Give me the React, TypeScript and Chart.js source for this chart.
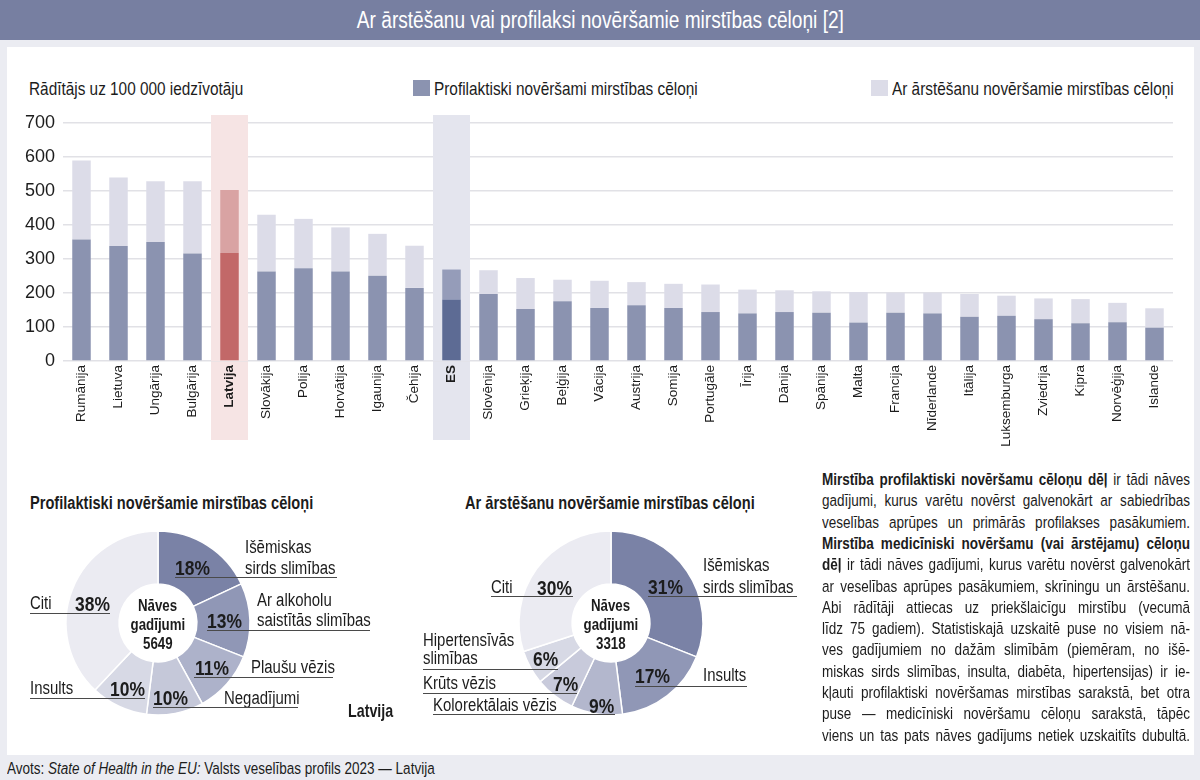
import React, { useEffect, useRef } from "react";
import { Chart, registerables } from "chart.js";

Chart.register(...registerables);

// ---------- DATA ----------
const countries = [
  "Rumānija", "Lietuva", "Ungārija", "Bulgārija", "Latvija", "Slovākija", "Polija", "Horvātija",
  "Igaunija", "Čehija", "ES", "Slovēnija", "Grieķija", "Beļģija", "Vācija", "Austrija", "Somija",
  "Portugāle", "Īrija", "Dānija", "Spānija", "Malta", "Francija", "Nīderlande", "Itālija",
  "Luksemburga", "Zviedrija", "Kipra", "Norvēģija", "Islande",
];
const preventable = [357, 338, 350, 316, 318, 263, 273, 263, 251, 215, 181, 197, 153, 176, 156, 164, 156, 144, 140, 144, 142, 113, 142, 140, 130, 133, 123, 111, 114, 98];
const treatable = [233, 202, 179, 213, 185, 167, 145, 130, 123, 124, 88, 70, 91, 63, 80, 68, 71, 81, 70, 64, 63, 90, 59, 61, 67, 59, 61, 71, 57, 57];
const seriesNames = ["Profilaktiski novēršami mirstības cēloņi", "Ar ārstēšanu novēršamie mirstības cēloņi"];
const yTicks = [0, 100, 200, 300, 400, 500, 600, 700];
const highlighted = ["Latvija", "ES"];

const prevCauses = [["Išēmiskas", "sirds slimības"], ["Ar alkoholu", "saistītās slimības"], ["Plaušu vēzis"], ["Negadījumi"], ["Insults"], ["Citi"]];
const prevShares = [18, 13, 11, 10, 10, 38];
const prevDeaths = 5649;

const treatCauses = [["Išēmiskas", "sirds slimības"], ["Insults"], ["Kolorektālais vēzis"], ["Krūts vēzis"], ["Hipertensīvās", "slimības"], ["Citi"]];
const treatShares = [31, 17, 9, 7, 6, 30];
const treatDeaths = 3318;

// ---------- STYLE ----------
const REGULAR = '"Liberation Sans", Arial, sans-serif';
const SX = 0.83; // horizontal squeeze to imitate a condensed face
const TEXT = "#1c1c1c";
const BG = "#ebecf2";

const barColors = {
  prev: { normal: "#8b93b0", Latvija: "#c26868", ES: "#5d6b94" },
  treat: { normal: "#dcdce8", Latvija: "#d9a3a3", ES: "#959cb9" },
  band: { Latvija: "#f6e4e4", ES: "#e4e5ee" },
};
const donutColorsPrev = ["#7a82a6", "#9097b6", "#adb2ca", "#c5c8d9", "#d7d9e5", "#ebebf2"];
const donutColorsTreat = ["#7a82a6", "#9097b6", "#b3b7cd", "#c8cadb", "#d7d9e5", "#ebebf2"];

// label layout (page coordinates): text x, pct x, line centre ys, underline x1-x2, underline y
const prevLayout = [
  { tx: 245, px: 175, ys: [547, 568], py: 567, u: [175, 337], uy: 577 },
  { tx: 257, px: 207, ys: [600, 620], py: 620, u: [207, 370], uy: 630 },
  { tx: 251, px: 195, ys: [667], py: 667, u: [194, 333], uy: 677 },
  { tx: 224, px: 153, ys: [698], py: 697, u: [153, 298], uy: 707 },
  { tx: 30, px: 110, ys: [688], py: 688, u: [30, 145], uy: 698 },
  { tx: 30, px: 75, ys: [603], py: 603, u: [30, 110], uy: 613 },
];
const treatLayout = [
  { tx: 703, px: 648, ys: [565, 587], py: 586, u: [648, 797], uy: 596 },
  { tx: 703, px: 635, ys: [675], py: 675, u: [635, 747], uy: 686 },
  { tx: 433, px: 589, ys: [705], py: 705, u: [433, 615], uy: 714 },
  { tx: 423, px: 553, ys: [683], py: 683, u: [423, 577], uy: 693 },
  { tx: 423, px: 533, ys: [640, 658], py: 658, u: [423, 558], uy: 669 },
  { tx: 491, px: 537, ys: [587], py: 587, u: [491, 573], uy: 596 },
];

const noteLines: Array<Array<[string, boolean]>> = [
  [["Mirstība profilaktiski novēršamu cēloņu dēļ", true], [" ir tādi nāves", false]],
  [["gadījumi, kurus varētu novērst galvenokārt ar sabiedrības", false]],
  [["veselības aprūpes un primārās profilakses pasākumiem.", false]],
  [["Mirstība medicīniski novēršamu (vai ārstējamu) cēloņu", true]],
  [["dēļ", true], [" ir tādi nāves gadījumi, kurus varētu novērst galvenokārt", false]],
  [["ar veselības aprūpes pasākumiem, skrīningu un ārstēšanu.", false]],
  [["Abi rādītāji attiecas uz priekšlaicīgu mirstību (vecumā", false]],
  [["līdz 75 gadiem). Statistiskajā uzskaitē puse no visiem nā-", false]],
  [["ves gadījumiem no dažām slimībām (piemēram, no išē-", false]],
  [["miskas sirds slimības, insulta, diabēta, hipertensijas) ir ie-", false]],
  [["kļauti profilaktiski novēršamas mirstības sarakstā, bet otra", false]],
  [["puse — medicīniski novēršamu cēloņu sarakstā, tāpēc", false]],
  [["viens un tas pats nāves gadījums netiek uzskaitīts dubultā.", false]],
];

Chart.defaults.font.family = REGULAR;
Chart.defaults.color = TEXT;

function colorFor(kind: "prev" | "treat", c: string) {
  const set = barColors[kind] as Record<string, string>;
  return set[c] || set.normal;
}

function drawBands(chart: any, fromTop: number, toBottom: number) {
  const x = chart.scales.x;
  const w = x.width / countries.length;
  const ctx = chart.ctx;
  ctx.save();
  highlighted.forEach((name) => {
    const i = countries.indexOf(name);
    const cx = x.getPixelForValue(i);
    ctx.fillStyle = (barColors.band as Record<string, string>)[name];
    ctx.fillRect(cx - w / 2, fromTop, w, toBottom - fromTop);
  });
  ctx.restore();
}

const bandPlugin = {
  id: "bands",
  beforeDraw(chart: any) {
    const { top, bottom } = chart.chartArea;
    drawBands(chart, top - 8, bottom + 79);
  },
  beforeDatasetsDraw(chart: any) {
    const { top, bottom } = chart.chartArea;
    drawBands(chart, top - 8, bottom);
  },
};

function BarChart() {
  const ref = useRef<HTMLCanvasElement>(null);
  useEffect(() => {
    const chart = new Chart(ref.current as HTMLCanvasElement, {
      type: "bar",
      data: {
        labels: countries,
        datasets: [
          {
            label: seriesNames[0],
            data: preventable,
            backgroundColor: countries.map((c) => colorFor("prev", c)),
            barPercentage: 0.5,
            categoryPercentage: 1,
          },
          {
            label: seriesNames[1],
            data: treatable,
            backgroundColor: countries.map((c) => colorFor("treat", c)),
            barPercentage: 0.5,
            categoryPercentage: 1,
          },
        ],
      },
      options: {
        animation: false,
        responsive: false,
        maintainAspectRatio: false,
        events: [],
        layout: { padding: { top: 123, right: 27, left: 0, bottom: 0 } },
        plugins: { legend: { display: false }, tooltip: { enabled: false } },
        scales: {
          x: {
            stacked: true,
            grid: { display: false, drawTicks: false },
            border: { display: false },
            ticks: {
              autoSkip: false,
              maxRotation: 90,
              minRotation: 90,
              padding: 4,
              color: TEXT,
              font: (ctx: any) => ({
                family: REGULAR,
                size: 13.5,
                weight: highlighted.includes(countries[ctx.index]) ? "bold" : "normal",
              }),
            },
            afterFit: (s: any) => {
              s.height = 99;
            },
          },
          y: {
            stacked: true,
            min: yTicks[0],
            max: yTicks[yTicks.length - 1],
            grid: { color: "#e1e1e6", lineWidth: 1.5, drawTicks: false },
            border: { display: false },
            ticks: { stepSize: yTicks[1] - yTicks[0], padding: 8, color: TEXT, font: { size: 18 } },
            afterFit: (s: any) => {
              s.width = 63;
            },
          },
        },
      },
      plugins: [bandPlugin],
    });
    return () => chart.destroy();
  }, []);
  return (
    <canvas
      ref={ref}
      width={1200}
      height={460}
      style={{ position: "absolute", left: 0, top: 0, width: 1200, height: 460 }}
    />
  );
}

function Donut({ shares, colors, cx, cy }: { shares: number[]; colors: string[]; cx: number; cy: number }) {
  const ref = useRef<HTMLCanvasElement>(null);
  useEffect(() => {
    const chart = new Chart(ref.current as HTMLCanvasElement, {
      type: "doughnut",
      data: {
        labels: shares.map((_, i) => String(i)),
        datasets: [{ data: shares, backgroundColor: colors, borderColor: "#ffffff", borderWidth: 1.5, hoverOffset: 0 }],
      },
      options: {
        animation: false,
        responsive: false,
        events: [],
        radius: 92,
        cutout: 42,
        layout: { padding: 0 },
        plugins: { legend: { display: false }, tooltip: { enabled: false } },
      } as any,
    });
    return () => chart.destroy();
  }, []);
  return (
    <canvas
      ref={ref}
      width={200}
      height={200}
      style={{ position: "absolute", left: cx - 100, top: cy - 100, width: 200, height: 200 }}
    />
  );
}

function T({ x, y, children, size = 18, bold = false, align = "left", color = TEXT, sx = SX }: any) {
  const lh = Math.round(size * 1.2);
  const style: React.CSSProperties = {
    position: "absolute",
    top: y - lh / 2,
    lineHeight: `${lh}px`,
    height: lh,
    fontSize: size,
    fontFamily: REGULAR,
    fontWeight: bold ? "bold" : "normal",
    color,
    whiteSpace: "nowrap",
  };
  let origin = "left center";
  if (align === "center") {
    style.left = x - 500;
    style.width = 1000;
    style.textAlign = "center";
    origin = "center center";
  } else {
    style.left = x;
  }
  return (
    <div style={style}>
      <span style={{ display: "inline-block", transform: `scaleX(${sx})`, transformOrigin: origin }}>{children}</span>
    </div>
  );
}

function Line({ x1, x2, y }: { x1: number; x2: number; y: number }) {
  return <div style={{ position: "absolute", left: x1, top: y, width: x2 - x1, height: 1, background: "#4a4a4a" }} />;
}

function DonutLabels({ causes, shares, layout, cx, cy, deaths }: any) {
  return (
    <>
      {causes.map((lines: string[], i: number) => {
        const L = layout[i];
        return (
          <React.Fragment key={i}>
            {lines.map((ln, j) => (
              <T key={j} x={L.tx} y={L.ys[j]} size={18}>
                {ln}
              </T>
            ))}
            <T x={L.px} y={L.py} size={21} bold>
              {shares[i]}%
            </T>
            <Line x1={L.u[0]} x2={L.u[1]} y={L.uy} />
          </React.Fragment>
        );
      })}
      <T x={cx} y={cy - 18} size={16} bold align="center">Nāves</T>
      <T x={cx} y={cy + 1} size={16} bold align="center">gadījumi</T>
      <T x={cx} y={cy + 20} size={16} bold align="center">{deaths}</T>
    </>
  );
}

export default function App() {
  useEffect(() => {
    document.body.style.margin = "0";
  }, []);
  return (
    <div style={{ position: "absolute", left: 0, top: 0, width: 1200, height: 780, background: BG, overflow: "hidden" }}>
      <div style={{ position: "absolute", left: 0, top: 0, width: 1200, height: 40, background: "#777fa1" }} />
      <T x={600} y={20} size={23} align="center" color="#ffffff">
        Ar ārstēšanu vai profilaksi novēršamie mirstības cēloņi [2]
      </T>
      <div style={{ position: "absolute", left: 7, top: 47, width: 1187, height: 708, background: "#ffffff" }} />

      {/* axis title + legend */}
      <T x={29} y={89} size={18.5}>Rādītājs uz 100 000 iedzīvotāju</T>
      <div style={{ position: "absolute", left: 413, top: 80, width: 17, height: 16, background: barColors.prev.normal }} />
      <T x={434} y={89} size={18.5}>{seriesNames[0]}</T>
      <div style={{ position: "absolute", left: 871, top: 80, width: 17, height: 16, background: barColors.treat.normal }} />
      <T x={892} y={89} size={18.5}>{seriesNames[1]}</T>

      <BarChart />

      {/* donuts */}
      <T x={30} y={503} size={17.6} bold>Profilaktiski novēršamie mirstības cēloņi</T>
      <T x={465} y={503} size={17.6} bold>Ar ārstēšanu novēršamie mirstības cēloņi</T>
      <Donut shares={prevShares} colors={donutColorsPrev} cx={157.5} cy={623} />
      <Donut shares={treatShares} colors={donutColorsTreat} cx={610.5} cy={623} />
      <DonutLabels causes={prevCauses} shares={prevShares} layout={prevLayout} cx={157.5} cy={623} deaths={prevDeaths} />
      <DonutLabels causes={treatCauses} shares={treatShares} layout={treatLayout} cx={610.5} cy={623} deaths={treatDeaths} />
      <T x={348} y={710} size={19} bold sx={0.75}>Latvija</T>

      {/* note */}
      {noteLines.map((segs, i) => (
        <div
          key={i}
          style={{
            position: "absolute",
            left: 822,
            top: 479 + i * 21.3 - 11,
            width: 368 / SX,
            height: 22,
            lineHeight: "22px",
            fontSize: 16.3,
            fontFamily: REGULAR,
            color: TEXT,
            textAlign: "justify",
            textAlignLast: "justify" as any,
            whiteSpace: "nowrap",
            transform: `scaleX(${SX})`,
            transformOrigin: "left center",
          }}
        >
          {segs.map(([s, b], j) => (
            <span key={j} style={{ fontWeight: b ? "bold" : "normal" }}>{s}</span>
          ))}
        </div>
      ))}

      {/* source */}
      <div
        style={{
          position: "absolute",
          left: 7,
          top: 758,
          lineHeight: "20px",
          fontSize: 16.3,
          fontFamily: REGULAR,
          color: TEXT,
          whiteSpace: "nowrap",
          transform: `scaleX(${SX})`,
          transformOrigin: "left center",
        }}
      >
        Avots: <i>State of Health in the EU:</i> Valsts veselības profils 2023 — Latvija
      </div>
    </div>
  );
}
